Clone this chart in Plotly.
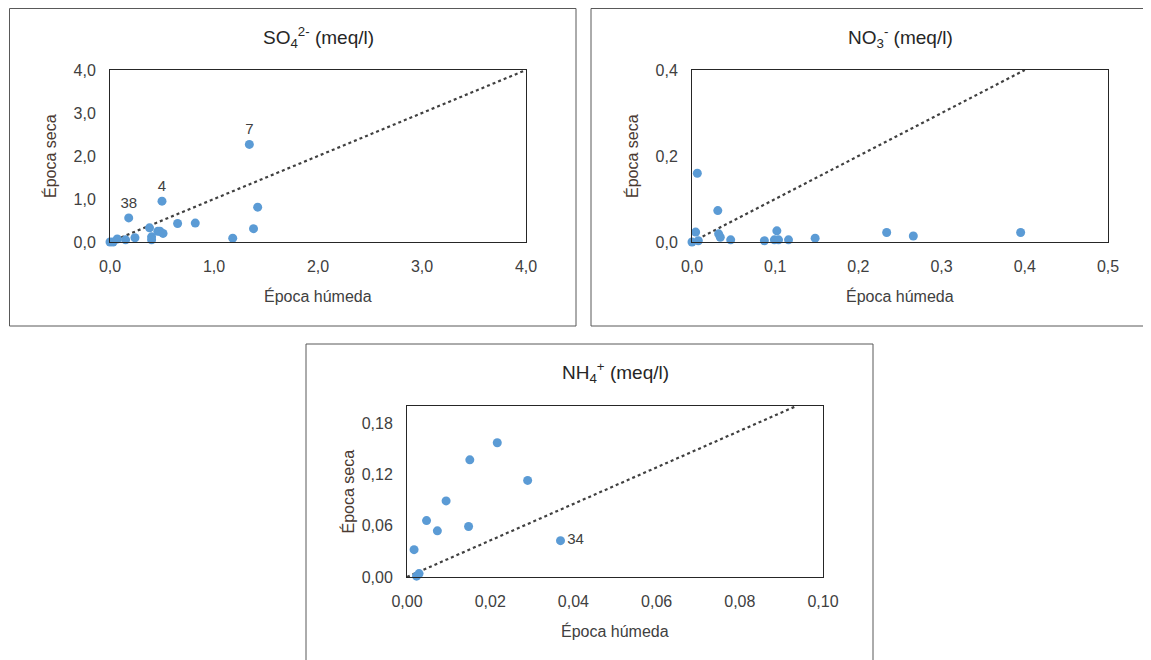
import plotly.graph_objects as go

# ---------------- data ----------------
so4_humeda = [0.0, 0.03, 0.07, 0.15, 0.24, 0.18, 0.38, 0.40, 0.40, 0.46, 0.48, 0.51, 0.50, 0.65, 0.82, 1.18, 1.34, 1.38, 1.42]
so4_seca   = [0.0, 0.0, 0.07, 0.05, 0.10, 0.56, 0.33, 0.12, 0.05, 0.25, 0.25, 0.20, 0.95, 0.43, 0.44, 0.09, 2.27, 0.31, 0.81]
so4_labels = ["", "", "", "", "", "38", "", "", "", "", "", "", "4", "", "", "", "7", "", ""]

no3_humeda = [0.0, 0.0064, 0.031, 0.0044, 0.0076, 0.032, 0.034, 0.0465, 0.087, 0.102, 0.099, 0.104, 0.116, 0.148, 0.234, 0.266, 0.395]
no3_seca   = [0.0, 0.160, 0.073, 0.023, 0.003, 0.019, 0.011, 0.005, 0.003, 0.026, 0.005, 0.005, 0.005, 0.009, 0.022, 0.014, 0.022]

nh4_humeda = [0.0217, 0.0151, 0.029, 0.0094, 0.0047, 0.0073, 0.0148, 0.0017, 0.0369, 0.0029, 0.0023]
nh4_seca   = [0.157, 0.137, 0.113, 0.089, 0.066, 0.054, 0.059, 0.032, 0.0425, 0.004, 0.001]
nh4_labels = ["", "", "", "", "", "", "", "", "34", "", ""]

# reference lines (endpoints)
so4_ref_x, so4_ref_y = [0, 4.0], [0, 4.0]
no3_ref_x, no3_ref_y = [0, 0.4], [0, 0.4]
nh4_ref_x, nh4_ref_y = [0, 0.0936], [0, 0.2]

titles = ["SO<sub>4</sub><sup>2-</sup> (meq/l)", "NO<sub>3</sub><sup>-</sup> (meq/l)", "NH<sub>4</sub><sup>+</sup> (meq/l)"]
x_title = "Época húmeda"
y_title = "Época seca"

# ---------------- layout helpers ----------------
W, H = 1151, 660
OFF = 8  # page body margin
def px(x):
    return (x - OFF) / W
def py(y):
    return 1 - (y - OFF) / H

FONT = "Liberation Sans"
TXT = "#404040"
DOT = "#5B9BD5"

fig = go.Figure()

panels = [
    dict(pa=(110, 526, 70, 242), box=(9.5, 576, 8.5, 326), x=so4_humeda, y=so4_seca, t=so4_labels,
         rx=so4_ref_x, ry=so4_ref_y, xr=[0, 4], yr=[0, 4], xd=1, yd=1, fmt=".1f", title=titles[0]),
    dict(pa=(692, 1108, 70, 242), box=(591, 1148.5, 8.5, 326), x=no3_humeda, y=no3_seca, t=None,
         rx=no3_ref_x, ry=no3_ref_y, xr=[0, 0.5], yr=[0, 0.4], xd=0.1, yd=0.2, fmt=".1f", title=titles[1]),
    dict(pa=(407, 823, 406, 577), box=(306, 873, 344, 680), x=nh4_humeda, y=nh4_seca, t=nh4_labels,
         rx=nh4_ref_x, ry=nh4_ref_y, xr=[0, 0.1], yr=[0, 0.2], xd=0.02, yd=0.06, fmt=".2f", title=titles[2]),
]

shapes = []
annotations = []
for i, p in enumerate(panels):
    n = "" if i == 0 else str(i + 1)
    xa, ya = "x" + n, "y" + n
    l, r, t, b = p["pa"]
    fig.add_trace(go.Scatter(x=p["rx"], y=p["ry"], mode="lines", xaxis=xa, yaxis=ya,
                             line=dict(color="#404040", width=2.2, dash="dot"),
                             showlegend=False, hoverinfo="skip", cliponaxis=True))
    if p["t"] is not None:
        pos = ["middle right" if s == "34" else "top center" for s in p["t"]]
        fig.add_trace(go.Scatter(x=p["x"], y=p["y"], mode="markers+text", text=p["t"],
                                 textposition=pos, textfont=dict(family=FONT, size=15, color=TXT),
                                 xaxis=xa, yaxis=ya, marker=dict(color=DOT, size=9),
                                 showlegend=False, cliponaxis=False))
    else:
        fig.add_trace(go.Scatter(x=p["x"], y=p["y"], mode="markers", xaxis=xa, yaxis=ya,
                                 marker=dict(color=DOT, size=9), showlegend=False, cliponaxis=False))
    common = dict(showgrid=False, zeroline=False, showline=True, mirror=True, automargin=False,
                  linecolor="#262626", linewidth=1, ticks="",
                  tickfont=dict(family=FONT, size=16, color=TXT), tickformat=p["fmt"])
    fig.update_layout(**{
        "xaxis" + n: dict(domain=[px(l), px(r)], range=p["xr"], dtick=p["xd"], tick0=0,
                          anchor=ya, ticklabelstandoff=10, **common),
        "yaxis" + n: dict(domain=[py(b), py(t)], range=p["yr"], dtick=p["yd"], tick0=0,
                          anchor=xa, ticklabelstandoff=10, **common),
    })
    bl, br, bt, bb = p["box"]
    shapes.append(dict(type="rect", xref="paper", yref="paper", x0=px(bl), x1=px(br),
                       y0=py(bb), y1=py(bt), line=dict(color="#595959", width=1), layer="below"))
    cx = (l + r) / 2
    annotations.append(dict(text=p["title"], x=px(cx), y=py(t - 33), xref="paper", yref="paper",
                            showarrow=False, font=dict(family=FONT, size=19, color="#262626"),
                            xanchor="center", yanchor="middle"))
    annotations.append(dict(text=x_title, x=px(cx), y=py(b + 54), xref="paper", yref="paper",
                            showarrow=False, font=dict(family=FONT, size=16, color=TXT),
                            xanchor="center", yanchor="middle"))
    annotations.append(dict(text=y_title, x=px(l - 60), y=py((t + b) / 2), xref="paper", yref="paper",
                            showarrow=False, textangle=-90, font=dict(family=FONT, size=16, color="#4a3a32"),
                            xanchor="center", yanchor="middle"))

fig.update_layout(width=W, height=H, margin=dict(l=0, r=0, t=0, b=0, autoexpand=False),
                  paper_bgcolor="white", plot_bgcolor="white", separators=",.",
                  shapes=shapes, annotations=annotations, showlegend=False)

fig.write_html("out.html")
